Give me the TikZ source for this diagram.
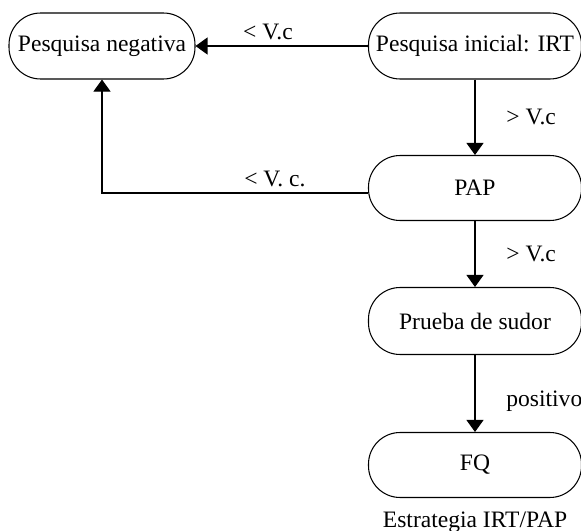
\documentclass[tikz,border=0pt]{standalone}
\usepackage{fontspec}
\setmainfont{Liberation Serif}
\usetikzlibrary{arrows.meta}

\begin{document}
\begin{tikzpicture}[box/.style={draw,rounded corners=18pt,minimum height=1.32cm,align=center,line width=0.6pt},
every node/.style={font=\fontsize{13.4}{15}\selectfont},
arr/.style={line width=0.6pt,-{Triangle[length=0.24cm,width=0.34cm]}}]
\useasboundingbox (0,0) rectangle (11.62,-10.62);
%Nodes
\path
 (2.04,-0.92) node[box,minimum width=3.72cm] (neg) {Pesquisa negativa}
 (9.5,-0.92) node[box,minimum width=4.26cm] (ini) {Pesquisa inicial: IRT}
 (9.5,-3.76) node[box,minimum width=4.26cm,minimum height=1.3cm] (pap) {PAP}
 (9.5,-6.42) node[box,minimum width=4.26cm,minimum height=1.34cm] (sud) {Prueba de sudor}
 (9.5,-9.3) node[box,minimum width=4.26cm,minimum height=1.3cm] (fq) {FQ}
 (9.5,-10.44) node (cap) {Estrategia IRT/PAP}
 ;
%Edges
\draw[arr] (ini) -- (neg) node[above,pos=0.58]{< V.c};
\draw[arr] (ini) -- (pap) node[right,pos=0.5,xshift=0.5cm]{> V.c};
\draw[arr] ([yshift=-0.1cm]pap.west) -| (neg) node[above,pos=0.175]{< V. c.};
\draw[arr] (pap) -- (sud) node[right,pos=0.5,xshift=0.5cm]{> V.c};
\draw[arr] (sud) -- (fq) node[right,pos=0.6,xshift=0.5cm]{positivo};
\end{tikzpicture}
\end{document}
